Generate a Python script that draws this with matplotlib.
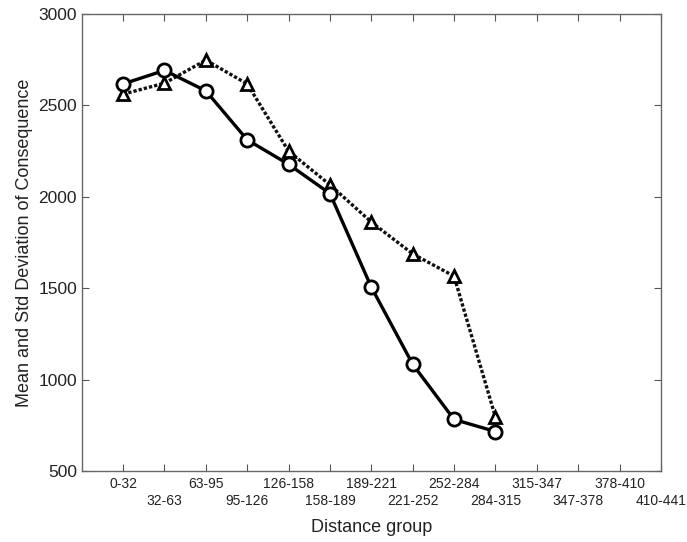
import numpy as np
import matplotlib.pyplot as plt

plt.rcParams['font.family'] = ['Liberation Sans', 'DejaVu Sans']

groups = ["0-32", "32-63", "63-95", "95-126", "126-158", "158-189", "189-221",
          "221-252", "252-284", "284-315", "315-347", "347-378", "378-410", "410-441"]
mean_vals = [2618, 2692, 2580, 2312, 2178, 2018, 1506, 1084, 782, 716]
std_vals = [2562, 2622, 2748, 2618, 2250, 2066, 1862, 1688, 1566, 795]

x = np.arange(1, len(groups) + 1)

fig = plt.figure(figsize=(6.87, 5.42), dpi=100)
ax = fig.add_axes([0.119, 0.131, 0.843, 0.843])

ax.plot(x[:len(mean_vals)], mean_vals, color='black', lw=2.4, marker='o', ms=9.5,
        mfc='white', mec='black', mew=2.0, zorder=3)
ax.plot(x[:len(std_vals)], std_vals, color='#111111', lw=2.4, ls=(0, (1, 0.6)),
        marker='^', ms=8.5, mfc='white', mec='black', mew=2.0, zorder=2)

ax.set_xlim(0, 14)
ax.set_ylim(500, 3000)
ax.set_yticks([500, 1000, 1500, 2000, 2500, 3000])
ax.set_xticks(x)
ax.set_xticklabels(groups, fontsize=10, color='#222222')
ax.tick_params(axis='y', labelsize=12.5, labelcolor='#222222')
ax.tick_params(direction='in', top=True, right=True, length=5, color='#555555')

# alternate the x labels on two rows
for i, t in enumerate(ax.xaxis.get_major_ticks()):
    t.set_pad(4.5 if i % 2 == 0 else 16.5)

for s in ax.spines.values():
    s.set_color('#666666')
    s.set_linewidth(1.0)

ax.set_xlabel("Distance group", fontsize=13, color='#222222', labelpad=8)
ax.set_ylabel("Mean and Std Deviation of Consequence", fontsize=13, color='#222222', labelpad=4)

fig.savefig("out.png", dpi=100)
